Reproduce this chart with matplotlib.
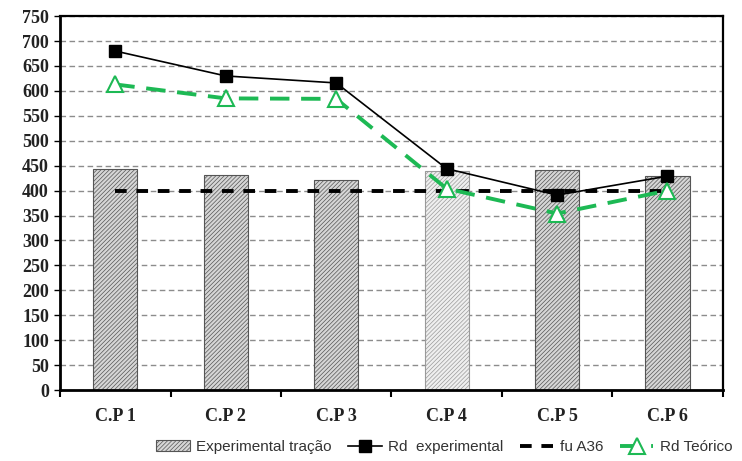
import matplotlib.pyplot as plt
import numpy as np

# valores por corpo de prova
corpos = ["C.P 1", "C.P 2", "C.P 3", "C.P 4", "C.P 5", "C.P 6"]
tracao = [443, 431, 422, 440, 441, 429]
rd_exp = [680, 630, 616, 444, 391, 429]
rd_teo = [613, 585, 584, 404, 354, 400]
fu_a36 = [400, 400, 400, 400, 400, 400]

plt.rcParams['hatch.linewidth'] = 0.5

fig = plt.figure(figsize=(7.42, 4.61), dpi=100)
ax = fig.add_axes([0.081, 0.154, 0.893, 0.811])

x = np.arange(len(corpos))

# barras hachuradas
barras = ax.bar(x, tracao, width=0.4, color="#d6d6d6", edgecolor="#555555",
                hatch="////////", linewidth=0.8, zorder=2, label="Experimental tração")
barras[3].set_facecolor("#efefef")
barras[3].set_edgecolor("#9a9a9a")

ax.plot(x, fu_a36, color="black", linestyle=(0, (3, 2.5)), linewidth=2.8, zorder=3,
        label="fu A36")
ax.plot(x, rd_exp, color="black", linewidth=1.2, marker="s", markersize=8, zorder=4,
        label="Rd  experimental")
ax.plot(x, rd_teo, color="#1db954", linestyle=(0, (5, 3)), linewidth=2.8, marker="^",
        markersize=11, markerfacecolor="white", markeredgecolor="#1db954",
        markeredgewidth=1.5, zorder=5, label="Rd Teórico")

ax.set_xlim(-0.5, 5.5)
ax.set_ylim(0, 750)
ax.set_yticks(np.arange(0, 751, 50))
ax.yaxis.grid(True, color="#8c8c8c", linestyle=(0, (4, 2.5)), linewidth=1.0, zorder=0)
ax.set_axisbelow(True)

ax.set_xticks(x)
ax.set_xticklabels(corpos)
ax.set_xticks(np.arange(-0.5, 6, 1), minor=True)
ax.tick_params(axis="x", which="major", length=0, pad=13)
ax.tick_params(axis="x", which="minor", length=5, width=1.5, direction="out")
ax.tick_params(axis="y", length=4, width=1, direction="out", pad=4)

for lab in ax.get_xticklabels() + ax.get_yticklabels():
    lab.set_fontfamily("Liberation Serif")
    lab.set_fontweight("bold")
    lab.set_fontsize(13)
    lab.set_color("#222222")

for s in ["left", "bottom"]:
    ax.spines[s].set_linewidth(2)
for s in ["top", "right"]:
    ax.spines[s].set_linewidth(1.6)

# legenda embaixo
handles, labels = ax.get_legend_handles_labels()
ordem = [labels.index(n) for n in ["Experimental tração", "Rd  experimental", "fu A36", "Rd Teórico"]]
leg = fig.legend([handles[i] for i in ordem], [labels[i] for i in ordem],
                 loc="center right", bbox_to_anchor=(0.999, 0.03), ncol=4, frameon=False,
                 prop={"family": "Liberation Sans", "size": 11}, handlelength=2.2,
                 columnspacing=1.1, handletextpad=0.4, borderpad=0.1)
for t in leg.get_texts():
    t.set_color("#333333")

fig.savefig("out.png", dpi=100)
